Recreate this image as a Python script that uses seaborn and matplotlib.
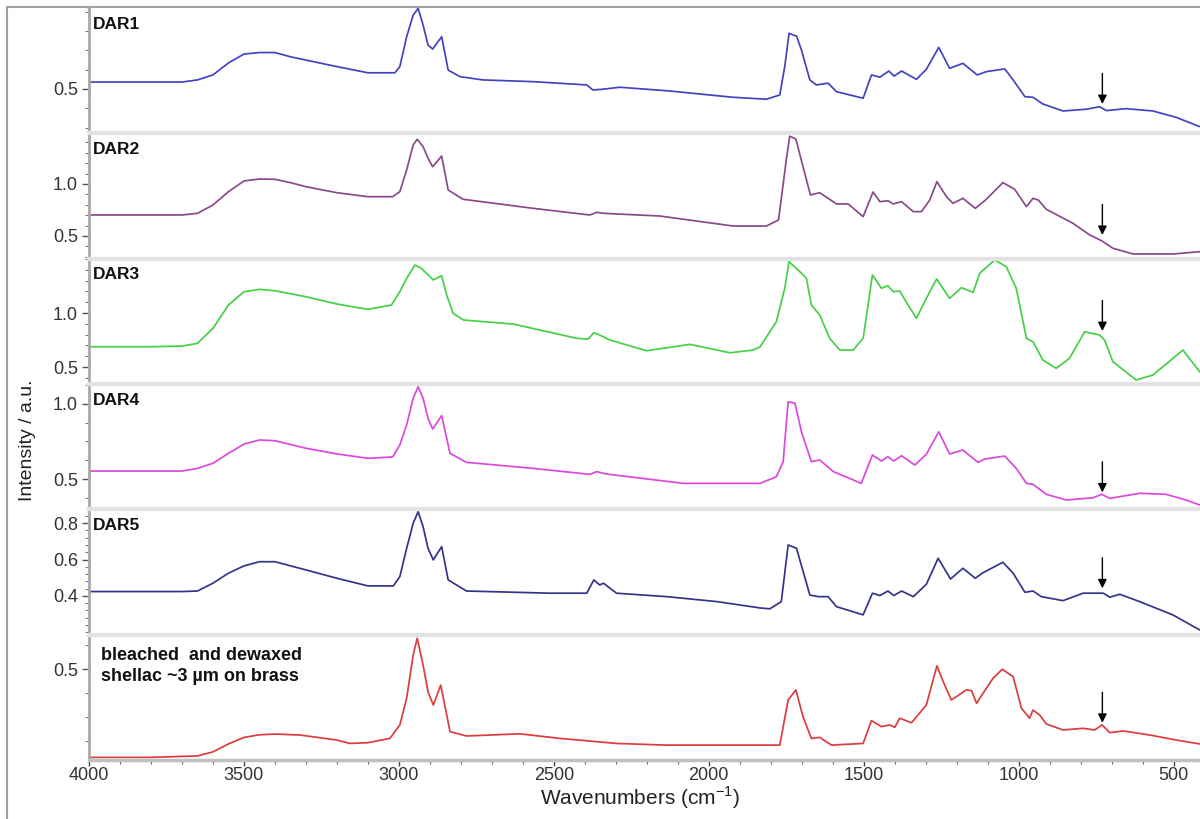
import numpy as np
import pandas as pd
import matplotlib
matplotlib.use("Agg")
import matplotlib.pyplot as plt
from matplotlib.ticker import MultipleLocator, FixedLocator, FormatStrFormatter
from matplotlib.patches import Rectangle
import seaborn as sns

# ---------------- data ----------------
wn_dar1 = [4000, 3800, 3700, 3650, 3600, 3550, 3500, 3450, 3400, 3350, 3300, 3200, 3100, 3013,
           2997, 2975, 2954, 2938, 2922, 2906, 2891, 2862, 2841, 2803, 2729, 2567, 2394, 2374,
           2346, 2287, 2136, 1922, 1814, 1771, 1755, 1741, 1728, 1717, 1701, 1674, 1653, 1615,
           1588, 1502, 1475, 1448, 1419, 1402, 1378, 1330, 1298, 1258, 1223, 1180, 1134, 1104,
           1045, 1018, 980, 954, 922, 857, 782, 739, 717, 654, 567, 492, 416]
i_dar1 = [0.536, 0.536, 0.536, 0.547, 0.573, 0.635, 0.681, 0.689, 0.689, 0.667, 0.650, 0.616, 0.584, 0.584,
          0.616, 0.771, 0.883, 0.918, 0.832, 0.728, 0.707, 0.771, 0.598, 0.564, 0.547, 0.538, 0.521, 0.495,
          0.498, 0.509, 0.491, 0.457, 0.447, 0.469, 0.616, 0.789, 0.780, 0.775, 0.702, 0.547, 0.521, 0.530,
          0.486, 0.452, 0.573, 0.561, 0.593, 0.567, 0.593, 0.550, 0.602, 0.716, 0.607, 0.633, 0.573, 0.590,
          0.604, 0.547, 0.460, 0.457, 0.422, 0.386, 0.395, 0.408, 0.388, 0.398, 0.386, 0.353, 0.305]

wn_dar2 = [4000, 3800, 3700, 3650, 3600, 3550, 3500, 3450, 3400, 3350, 3300, 3200, 3100, 3020,
           2997, 2975, 2954, 2941, 2922, 2906, 2891, 2862, 2841, 2793, 2567, 2384, 2361, 2340,
           2158, 1922, 1814, 1775, 1750, 1739, 1719, 1696, 1672, 1642, 1588, 1550, 1502, 1470,
           1448, 1422, 1405, 1378, 1340, 1314, 1287, 1264, 1233, 1212, 1180, 1140, 1107, 1051,
           1013, 975, 954, 937, 911, 825, 771, 733, 696, 631, 501, 416]
i_dar2 = [0.702, 0.702, 0.702, 0.718, 0.798, 0.926, 1.029, 1.048, 1.045, 1.013, 0.974, 0.916, 0.878, 0.878,
          0.926, 1.135, 1.375, 1.430, 1.359, 1.247, 1.166, 1.269, 0.942, 0.853, 0.766, 0.702, 0.728, 0.718,
          0.692, 0.596, 0.596, 0.654, 1.231, 1.459, 1.433, 1.166, 0.894, 0.916, 0.808, 0.808, 0.686, 0.923,
          0.830, 0.839, 0.808, 0.830, 0.734, 0.734, 0.846, 1.022, 0.878, 0.814, 0.862, 0.766, 0.846, 1.013,
          0.949, 0.782, 0.862, 0.846, 0.757, 0.622, 0.510, 0.455, 0.382, 0.327, 0.327, 0.349]

wn_dar3 = [4000, 3800, 3700, 3650, 3600, 3550, 3500, 3450, 3400, 3300, 3200, 3100, 3024,
           2997, 2975, 2948, 2930, 2922, 2889, 2862, 2846, 2825, 2792, 2631, 2427, 2389, 2371,
           2352, 2319, 2201, 2061, 1932, 1858, 1835, 1782, 1755, 1741, 1706, 1685, 1669, 1642,
           1610, 1577, 1534, 1502, 1486, 1472, 1443, 1422, 1405, 1384, 1357, 1330, 1298, 1265,
           1223, 1185, 1147, 1126, 1077, 1040, 1008, 975, 954, 922, 879, 836, 787, 739, 723,
           696, 621, 567, 470, 416]
i_dar3 = [0.688, 0.688, 0.694, 0.719, 0.858, 1.074, 1.197, 1.219, 1.206, 1.151, 1.083, 1.034, 1.074,
          1.197, 1.321, 1.444, 1.419, 1.398, 1.306, 1.345, 1.167, 0.997, 0.935, 0.898, 0.766, 0.759, 0.818,
          0.796, 0.750, 0.651, 0.710, 0.632, 0.657, 0.685, 0.919, 1.229, 1.475, 1.382, 1.321, 1.074, 0.981,
          0.766, 0.657, 0.657, 0.766, 1.074, 1.352, 1.229, 1.253, 1.197, 1.204, 1.074, 0.951, 1.136, 1.315,
          1.136, 1.234, 1.192, 1.368, 1.491, 1.429, 1.229, 0.766, 0.734, 0.565, 0.488, 0.581, 0.827, 0.796, 0.750,
          0.549, 0.380, 0.426, 0.657, 0.456]

wn_dar4 = [4000, 3800, 3700, 3650, 3600, 3550, 3500, 3450, 3400, 3300, 3200, 3100, 3020,
           2997, 2975, 2954, 2938, 2922, 2906, 2891, 2862, 2835, 2782, 2567, 2384, 2362, 2330,
           2082, 1835, 1782, 1760, 1744, 1722, 1701, 1669, 1642, 1598, 1508, 1472, 1443, 1422,
           1403, 1378, 1335, 1298, 1258, 1223, 1180, 1131, 1110, 1045, 1008, 975, 954, 911,
           846, 760, 732, 706, 610, 525, 460, 416]
i_dar4 = [0.553, 0.553, 0.553, 0.571, 0.605, 0.671, 0.733, 0.760, 0.755, 0.705, 0.667, 0.638, 0.647,
          0.727, 0.860, 1.038, 1.115, 1.038, 0.905, 0.833, 0.922, 0.671, 0.611, 0.571, 0.531, 0.549, 0.533,
          0.471, 0.471, 0.515, 0.615, 1.015, 1.005, 0.815, 0.615, 0.627, 0.549, 0.471, 0.660, 0.620, 0.649,
          0.620, 0.655, 0.593, 0.665, 0.815, 0.667, 0.693, 0.611, 0.633, 0.653, 0.571, 0.471, 0.465, 0.398,
          0.360, 0.375, 0.398, 0.371, 0.405, 0.398, 0.360, 0.327]

wn_dar5 = [4000, 3800, 3700, 3650, 3600, 3550, 3500, 3450, 3400, 3300, 3200, 3100, 3018,
           2997, 2975, 2954, 2938, 2922, 2906, 2889, 2862, 2841, 2782, 2513, 2394, 2371, 2352,
           2340, 2298, 2136, 1975, 1835, 1803, 1766, 1744, 1717, 1674, 1647, 1615, 1588, 1502,
           1472, 1448, 1422, 1403, 1378, 1340, 1298, 1260, 1220, 1180, 1140, 1118, 1051, 1018,
           980, 954, 927, 857, 792, 727, 706, 674, 610, 503, 416]
i_dar5 = [0.424, 0.424, 0.424, 0.427, 0.470, 0.525, 0.565, 0.588, 0.588, 0.543, 0.497, 0.455, 0.455,
          0.506, 0.662, 0.799, 0.863, 0.781, 0.662, 0.598, 0.671, 0.488, 0.427, 0.415, 0.415, 0.488, 0.460,
          0.470, 0.415, 0.396, 0.369, 0.334, 0.329, 0.369, 0.680, 0.662, 0.405, 0.396, 0.396, 0.341, 0.296,
          0.415, 0.402, 0.427, 0.402, 0.427, 0.396, 0.464, 0.607, 0.493, 0.552, 0.497, 0.525, 0.585, 0.525,
          0.420, 0.427, 0.396, 0.374, 0.415, 0.415, 0.393, 0.409, 0.369, 0.296, 0.213]

wn_shellac = [4000, 3800, 3650, 3600, 3550, 3500, 3450, 3400, 3319, 3200, 3158, 3100, 3029,
              2997, 2975, 2954, 2941, 2922, 2906, 2889, 2865, 2835, 2782, 2610, 2481, 2298, 2136,
              1835, 1771, 1744, 1719, 1696, 1669, 1642, 1604, 1502, 1475, 1443, 1416, 1400, 1384,
              1346, 1298, 1264, 1239, 1217, 1169, 1152, 1136, 1115, 1083, 1053, 1018, 991, 965,
              954, 932, 911, 857, 792, 755, 731, 706, 663, 577, 491, 416]
i_shellac = [0.132, 0.132, 0.138, 0.155, 0.188, 0.215, 0.226, 0.229, 0.225, 0.204, 0.190, 0.193, 0.211,
             0.267, 0.378, 0.558, 0.628, 0.517, 0.405, 0.350, 0.433, 0.239, 0.221, 0.230, 0.211, 0.190, 0.183,
             0.183, 0.183, 0.371, 0.413, 0.301, 0.211, 0.215, 0.183, 0.190, 0.285, 0.260, 0.267, 0.257, 0.295,
             0.276, 0.350, 0.513, 0.433, 0.371, 0.413, 0.410, 0.357, 0.399, 0.461, 0.499, 0.468, 0.336, 0.295,
             0.329, 0.308, 0.271, 0.246, 0.253, 0.246, 0.267, 0.235, 0.242, 0.225, 0.204, 0.188]

labels = ["DAR1", "DAR2", "DAR3", "DAR4", "DAR5", "bleached  and dewaxed\nshellac ~3 \u00b5m on brass"]
colors = ["#4343c2", "#8a4a8a", "#45d045", "#dc48dc", "#343488", "#dc3c3c"]
wavenumbers = [wn_dar1, wn_dar2, wn_dar3, wn_dar4, wn_dar5, wn_shellac]
intensities = [i_dar1, i_dar2, i_dar3, i_dar4, i_dar5, i_shellac]

y_limits = [(0.270, 0.920), (0.282, 1.487), (0.343, 1.503), (0.298, 1.133), (0.187, 0.876), (0.121, 0.643)]
y_tick_values = [[0.5], [0.5, 1.0], [0.5, 1.0], [0.5, 1.0], [0.4, 0.6, 0.8], [0.5]]
y_minor_step = [0.1, 0.1, 0.1, 0.125, 0.04, 0.1]
arrow_wn = 730
arrow_tips = [0.422, 0.510, 0.833, 0.411, 0.442, 0.276]

x_limits = (4000, 415)

# ---------------- style ----------------
sns.set_style("white")
plt.rcParams["font.family"] = ["Liberation Sans", "DejaVu Sans"]
plt.rcParams["mathtext.fontset"] = "custom"
plt.rcParams["mathtext.rm"] = "Liberation Sans"

fig = plt.figure(figsize=(12, 8.19), dpi=100)
left, right = 89 / 1200, 1.0
top, bottom = 1 - 8 / 819, 1 - 760 / 819
gs = fig.add_gridspec(6, 1, left=left, right=right, top=top, bottom=bottom, hspace=0)

axes = []
for k in range(6):
    ax = fig.add_subplot(gs[k, 0], sharex=axes[0] if axes else None)
    axes.append(ax)
    df = pd.DataFrame({"wn": wavenumbers[k], "I": intensities[k]})
    sns.lineplot(data=df, x="wn", y="I", ax=ax, color=colors[k], lw=1.25,
                 estimator=None, sort=False)
    ax.set_xlabel("")
    ax.set_ylabel("")
    ax.set_ylim(*y_limits[k])
    ax.yaxis.set_major_locator(FixedLocator(y_tick_values[k]))
    ax.yaxis.set_minor_locator(MultipleLocator(y_minor_step[k]))
    ax.yaxis.set_major_formatter(FormatStrFormatter("%.1f"))
    ax.tick_params(axis="y", which="major", direction="out", length=5, width=1,
                   color="#555555", labelsize=13, labelcolor="#333333", pad=3, left=True)
    ax.tick_params(axis="y", which="minor", direction="out", length=3, width=0.8,
                   color="#777777", left=True)
    ax.patch.set_alpha(0)
    ax.spines["right"].set_visible(False)
    ax.spines["left"].set_color("#a8a8a8")
    ax.spines["left"].set_linewidth(2)
    if k == 0:
        ax.spines["top"].set_visible(False)
    else:
        ax.spines["top"].set_color("#e2e2e2")
        ax.spines["top"].set_linewidth(3)
    if k < 5:
        ax.spines["bottom"].set_visible(False)
        ax.tick_params(axis="x", which="both", bottom=False, labelbottom=False)
    # label
    if k < 5:
        ax.text(0.0035, 0.93, labels[k], transform=ax.transAxes, ha="left", va="top",
                fontsize=12.5, fontweight="bold", color="#111111")
    else:
        ax.text(0.011, 0.90, labels[k], transform=ax.transAxes, ha="left", va="top",
                fontsize=13, fontweight="bold", color="#111111", linespacing=1.3)
    # arrow
    ax.annotate("", xy=(arrow_wn, arrow_tips[k]), xytext=(0, 22), textcoords="offset points",
                arrowprops=dict(arrowstyle="-|>", color="black", lw=1.0,
                                mutation_scale=13, shrinkA=0, shrinkB=0))

axb = axes[-1]
axb.set_xlim(*x_limits)
axb.xaxis.set_major_locator(MultipleLocator(500))
axb.xaxis.set_minor_locator(MultipleLocator(100))
axb.xaxis.set_major_formatter(FormatStrFormatter("%d"))
axb.spines["bottom"].set_color("#c0c0c0")
axb.spines["bottom"].set_linewidth(2.5)
axb.tick_params(axis="x", which="major", direction="out", length=4, width=1,
                color="#444444", labelsize=13, labelcolor="#333333", pad=1, bottom=True)
axb.tick_params(axis="x", which="minor", direction="out", length=3, width=0.8,
                color="#666666", bottom=True)

fig.text(27 / 1200, 1 - 440 / 819, "Intensity / a.u.", rotation=90, ha="center", va="center",
         fontsize=14, color="#222222")
fig.text(640 / 1200, 1 - 805 / 819, "Wavenumbers (cm$^{\\mathregular{-1}}$)", ha="center", va="baseline",
         fontsize=15, color="#222222")

fig.patches.append(Rectangle((7 / 1200, -0.2), 1.5, 1 - 7 / 819 + 0.2, transform=fig.transFigure,
                             fill=False, edgecolor="#a0a0a0", lw=1.5, zorder=-1))

fig.savefig("out.png", dpi=100)
